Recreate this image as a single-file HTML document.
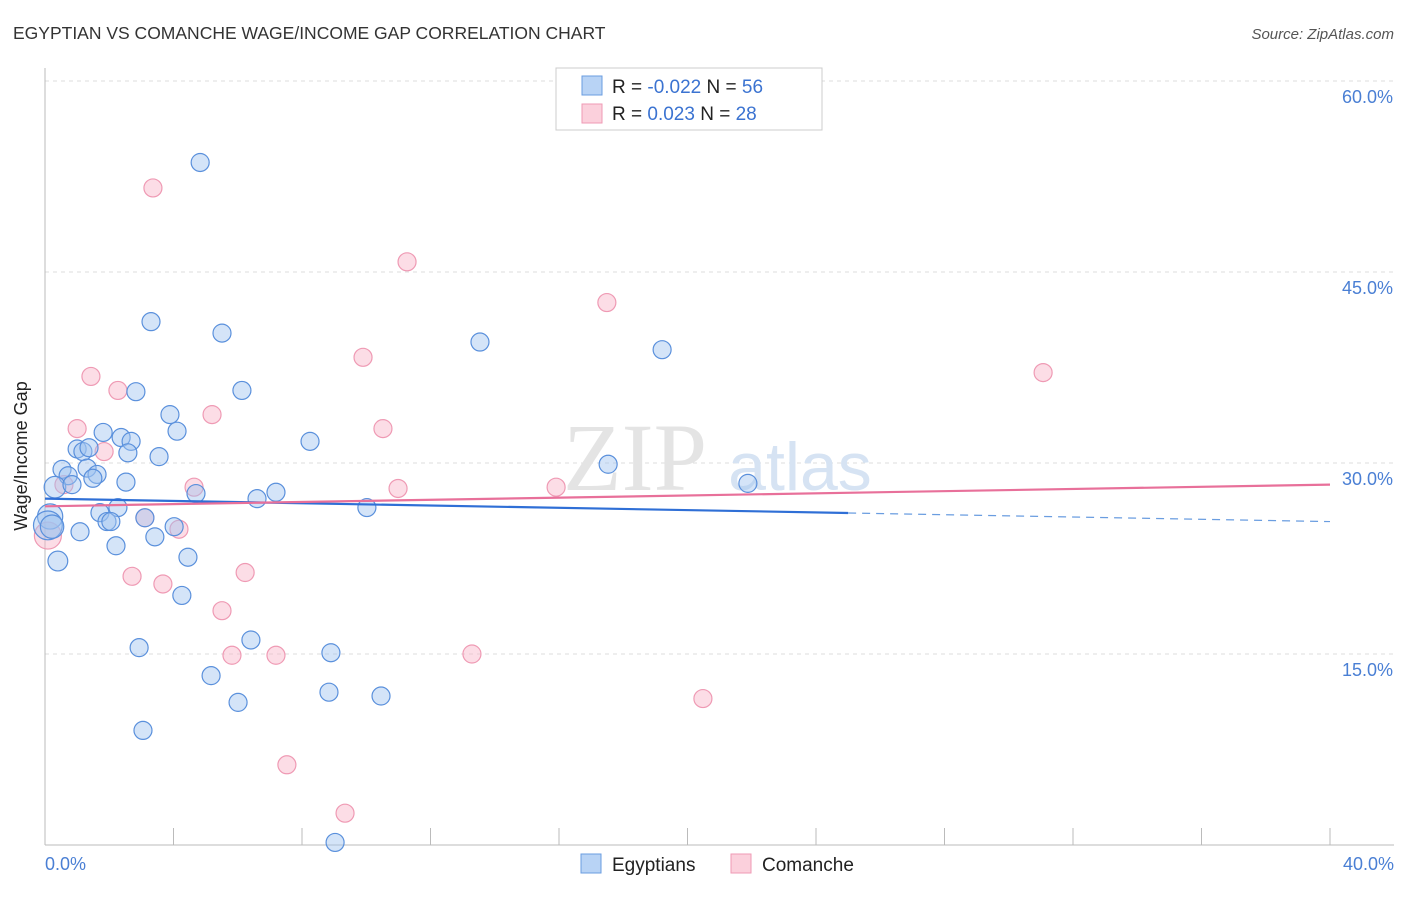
<!DOCTYPE html>
<html><head><meta charset="utf-8"><style>
body{margin:0;background:#fff;font-family:"Liberation Sans",sans-serif}
</style></head><body>
<svg id="c" width="1406" height="892" viewBox="0 0 1406 892" xmlns="http://www.w3.org/2000/svg">
<text x="13" y="39" font-size="17.5" fill="#333">EGYPTIAN VS COMANCHE WAGE/INCOME GAP CORRELATION CHART</text>
<text x="1394" y="39" font-size="15" fill="#555" font-style="italic" text-anchor="end">Source: ZipAtlas.com</text>
<g id="grid"></g>
<text x="635" y="490" font-size="96" fill="#e4e4e4" font-family="Liberation Serif" text-anchor="middle">ZIP</text>
<text x="800" y="490" font-size="68" fill="#d6e3f3" text-anchor="middle">atlas</text>
<line x1="45" y1="68" x2="45" y2="845" stroke="#bbb"/>
<line x1="45" y1="845" x2="1394" y2="845" stroke="#bbb"/>
<text x="27" y="456" font-size="18" fill="#222" text-anchor="middle" transform="rotate(-90 27 456)">Wage/Income Gap</text>
<text x="45" y="870" font-size="18" fill="#4a7fd4">0.0%</text>
<text x="1394" y="870" font-size="18" fill="#4a7fd4" text-anchor="end">40.0%</text>
<g id="pts"></g>
<g id="trend"></g>
<g>
<rect x="556" y="68" width="266" height="62" fill="#fff" stroke="#ccc"/>
<rect x="582" y="76" width="20" height="19" fill="#b8d3f5" stroke="#6a9de0"/>
<rect x="582" y="104" width="20" height="19" fill="#fbd0dc" stroke="#ef9ab4"/>
<text x="612" y="93" font-size="19" fill="#222">R = <tspan fill="#3b73d1">-0.022</tspan>    N = <tspan fill="#3b73d1">56</tspan></text>
<text x="612" y="120" font-size="19" fill="#222">R =   <tspan fill="#3b73d1">0.023</tspan>    N = <tspan fill="#3b73d1">28</tspan></text>
</g>
<g>
<rect x="581" y="854" width="20" height="19" fill="#b8d3f5" stroke="#6a9de0"/>
<text x="612" y="871" font-size="19" fill="#222">Egyptians</text>
<rect x="731" y="854" width="20" height="19" fill="#fbd0dc" stroke="#ef9ab4"/>
<text x="762" y="871" font-size="19" fill="#222">Comanche</text>
</g>
</svg>
<script>
const yTicks=[15,30,45,60];
const yTickLabels=["15.0%","30.0%","45.0%","60.0%"];
const xTicks=[0,4,8,12,16,20,24,28,32,36,40];
const egyX=[4.83,3.30,5.51,13.54,19.21,6.13,2.83,3.89,4.11,1.81,2.37,2.68,1.00,1.18,1.37,2.58,3.55,8.25,17.53,0.53,1.31,1.62,0.72,1.49,0.31,0.84,2.52,4.70,7.19,6.60,21.88,2.27,10.02,1.71,1.93,2.05,3.11,4.02,0.16,1.09,3.42,2.21,0.09,0.40,4.45,4.26,6.41,2.93,8.90,5.17,8.84,10.46,6.01,3.05,9.03,0.22];
const egyY=[53.6,41.1,40.2,39.5,38.9,35.7,35.6,33.8,32.5,32.4,32.0,31.7,31.1,30.9,31.2,30.8,30.5,31.7,29.9,29.5,29.6,29.1,29.0,28.8,28.1,28.3,28.5,27.6,27.7,27.2,28.4,26.5,26.5,26.1,25.4,25.4,25.7,25.0,25.8,24.6,24.2,23.5,25.1,22.3,22.6,19.6,16.1,15.5,15.1,13.3,12.0,11.7,11.2,9.0,0.2,25.0];
const egySize=[1,1,1,1,1,1,1,1,1,1,1,1,1,1,1,1,1,1,1,1,1,1,1,1,1.2,1,1,1,1,1,1,1,1,1,1,1,1,1,1.4,1,1,1,1.6,1.1,1,1,1,1,1,1,1,1,1,1,1,1.3];
const comX=[3.36,11.27,17.49,9.90,31.07,1.43,2.27,5.20,1.00,10.52,1.84,0.59,4.64,10.99,15.91,3.11,4.17,0.09,2.71,6.23,3.67,5.51,5.82,7.19,13.29,20.48,7.53,9.34];
const comY=[51.6,45.8,42.6,38.3,37.1,36.8,35.7,33.8,32.7,32.7,30.9,28.3,28.1,28.0,28.1,25.7,24.8,24.3,21.1,21.4,20.5,18.4,14.9,14.9,15.0,11.5,6.3,2.5];
const comSize=[1,1,1,1,1,1,1,1,1,1,1,1,1,1,1,1,1,1.5,1,1,1,1,1,1,1,1,1,1];
const egyTrend=[27.2,25.4];
const comTrend=[26.6,28.3];
const sx=v=>45+v/40*1285;
const sy=v=>845-v/15*191;
const NS="http://www.w3.org/2000/svg";
function mk(tag,attrs,parent){const e=document.createElementNS(NS,tag);for(const k in attrs)e.setAttribute(k,attrs[k]);parent.appendChild(e);return e;}
const grid=document.getElementById('grid');
yTicks.forEach((t,i)=>{
  const l=mk('line',{x1:45,x2:1394,y1:sy(t),y2:sy(t),stroke:'#ddd','stroke-dasharray':'4,4'},grid);
  
  
  const tx=mk('text',{x:1393,y:sy(t)+22,'font-size':18,fill:'#4a7fd4','text-anchor':'end'},grid);
  tx.textContent=yTickLabels[i];
  
  
});
xTicks.forEach(t=>{
  const l=mk('line',{x1:sx(t),x2:sx(t),y1:828,y2:845,stroke:'#bbb'},grid);
  
  
});
const pts=document.getElementById('pts');
comX.forEach((x,i)=>{
  const c=mk('circle',{cx:sx(x),cy:sy(comY[i]),r:9*comSize[i],fill:'rgba(248,180,200,0.45)',stroke:'#ef9ab4','stroke-width':1.2},pts);
  
  
});
egyX.forEach((x,i)=>{
  const c=mk('circle',{cx:sx(x),cy:sy(egyY[i]),r:9*egySize[i],fill:'rgba(160,195,240,0.45)',stroke:'#5a90dc','stroke-width':1.2},pts);
  
  
});
const tr=document.getElementById('trend');
const bMid=egyTrend[0]+(egyTrend[1]-egyTrend[0])*(25/40);
const l1=mk('line',{x1:sx(0),y1:sy(egyTrend[0]),x2:sx(25),y2:sy(bMid),stroke:'#2f6fd6','stroke-width':2.2},tr);


const l2=mk('line',{x1:sx(25),y1:sy(bMid),x2:sx(40),y2:sy(egyTrend[1]),stroke:'#6a9de0','stroke-width':1.2,'stroke-dasharray':'8,6'},tr);


const l3=mk('line',{x1:sx(0),y1:sy(comTrend[0]),x2:sx(40),y2:sy(comTrend[1]),stroke:'#e8709a','stroke-width':2.2},tr);


</script>
</body></html>
